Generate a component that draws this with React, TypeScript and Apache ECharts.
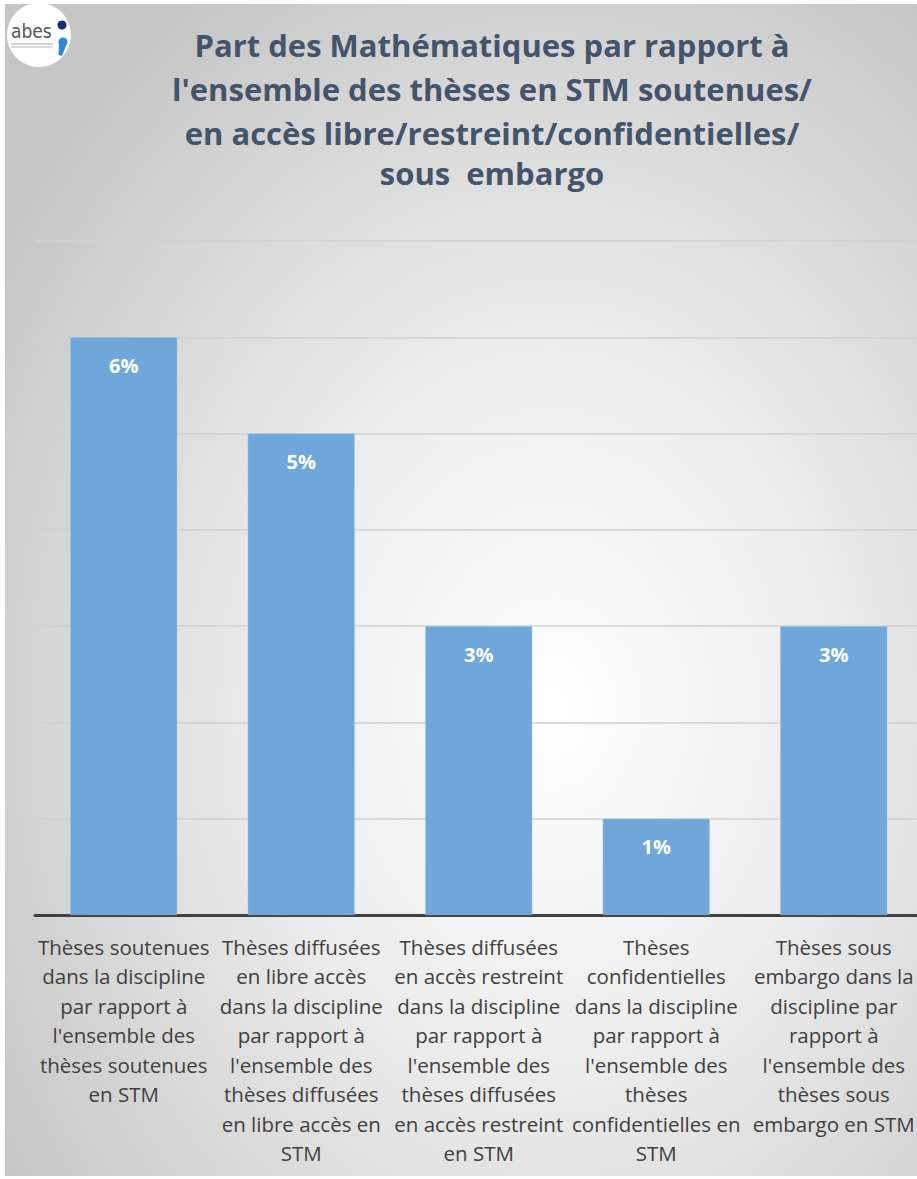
import React, { useEffect, useRef } from "react";
import * as echarts from "echarts";

const titleLines = [
  "Part des Mathématiques par rapport à",
  "l'ensemble des thèses en STM soutenues/",
  "en accès libre/restreint/confidentielles/",
  "sous  embargo",
];

const categories = [
  "Thèses soutenues\ndans la discipline\npar rapport à\nl'ensemble des\nthèses soutenues\nen STM",
  "Thèses diffusées\nen libre accès\ndans la discipline\npar rapport à\nl'ensemble des\nthèses diffusées\nen libre accès en\nSTM",
  "Thèses diffusées\nen accès restreint\ndans la discipline\npar rapport à\nl'ensemble des\nthèses diffusées\nen accès restreint\nen STM",
  "Thèses\nconfidentielles\ndans la discipline\npar rapport à\nl'ensemble des\nthèses\nconfidentielles en\nSTM",
  "Thèses sous\nembargo dans la\ndiscipline par\nrapport à\nl'ensemble des\nthèses sous\nembargo en STM",
];

const values = [6, 5, 3, 1, 3];

const yMin = 0;
const yMax = 7;
const yInterval = 1;

export default function App() {
  const ref = useRef<HTMLDivElement>(null);

  useEffect(() => {
    document.body.style.margin = "0";
    const chart = echarts.init(ref.current!, null, { renderer: "svg" });
    const titleFont = "bold 31px 'Open Sans', sans-serif";
    chart.setOption({
      animation: false,
      graphic: [
        {
          type: "rect",
          z: -10,
          silent: true,
          shape: { x: 5, y: 4, width: 912, height: 1172 },
          style: {
            fill: new echarts.graphic.RadialGradient(0.6, 0.6, 0.72, [
              { offset: 0, color: "#ffffff" },
              { offset: 0.45, color: "#ebebeb" },
              { offset: 1, color: "#c6c6c6" },
            ]),
          },
        },
        {
          type: "circle",
          z: 10,
          shape: { cx: 39, cy: 35, r: 32 },
          style: { fill: "#ffffff" },
        },
        {
          type: "text",
          z: 11,
          x: 11,
          y: 40,
          style: {
            text: "abes",
            font: "19px 'Liberation Sans Narrow', 'DejaVu Sans Condensed', sans-serif",
            fill: "#555555",
            verticalAlign: "bottom",
            align: "left",
          },
        },
        {
          type: "line",
          z: 11,
          shape: { x1: 11, y1: 44, x2: 53, y2: 44 },
          style: { stroke: "#aaa", lineWidth: 1 },
        },
        {
          type: "line",
          z: 11,
          shape: { x1: 11, y1: 47, x2: 53, y2: 47 },
          style: { stroke: "#bbb", lineWidth: 1 },
        },
        {
          type: "circle",
          z: 11,
          shape: { cx: 62, cy: 25, r: 4.5 },
          style: { fill: "#1a2b78" },
        },
        {
          type: "circle",
          z: 11,
          shape: { cx: 63, cy: 42, r: 4.5 },
          style: { fill: "#2f86dc" },
        },
        {
          type: "polygon",
          z: 11,
          shape: { points: [[59, 43], [67.5, 42], [62, 56], [58.5, 55]] },
          style: { fill: "#2f86dc" },
        },
        {
          type: "text",
          z: 5,
          x: 492,
          y: 23,
          style: {
            text: titleLines.slice(0, 3).join("\n"),
            font: titleFont,
            lineHeight: 44,
            fill: "#44546A",
            align: "center",
            verticalAlign: "top",
          },
        },
        {
          type: "text",
          z: 5,
          x: 492,
          y: 151,
          style: {
            text: titleLines[3],
            font: titleFont,
            lineHeight: 44,
            fill: "#44546A",
            align: "center",
            verticalAlign: "top",
          },
        },
      ],
      grid: {
        left: 35,
        width: 887.5,
        top: 241,
        bottom: 264,
        containLabel: false,
        outerBoundsMode: "none",
      },
      xAxis: {
        type: "category",
        data: categories,
        axisLine: { show: true, lineStyle: { color: "#404040", width: 3 } },
        axisTick: { show: false },
        axisLabel: {
          interval: 0,
          margin: 17,
          color: "#404040",
          fontFamily: "'Open Sans', sans-serif",
          fontSize: 20.5,
          lineHeight: 29.5,
          align: "center",
        },
      },
      yAxis: {
        type: "value",
        min: yMin,
        max: yMax,
        interval: yInterval,
        axisLabel: { show: false },
        axisLine: { show: false },
        axisTick: { show: false },
        splitLine: { show: true, lineStyle: { color: "#d0d0d0", width: 1.5 } },
      },
      series: [
        {
          type: "bar",
          data: values,
          barWidth: 107,
          itemStyle: { color: "#70A7DB", borderColor: "#9ec4e8", borderWidth: 0.5 },
          label: {
            show: true,
            position: "insideTop",
            distance: 18,
            formatter: "{c}%",
            color: "#ffffff",
            fontWeight: "bold",
            fontSize: 20,
            fontFamily: "'Open Sans', sans-serif",
          },
        },
      ],
    });
    return () => chart.dispose();
  }, []);

  return (
    <div
      ref={ref}
      style={{ position: "absolute", left: 0, top: 0, width: 917, height: 1179, background: "#ffffff" }}
    />
  );
}
